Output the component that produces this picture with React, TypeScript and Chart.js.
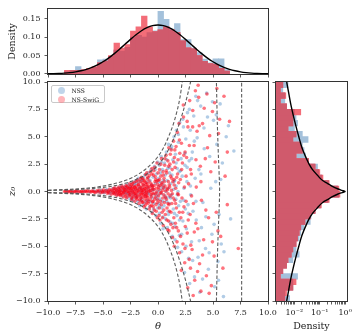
import React, { useEffect, useRef } from "react";
import { Chart, registerables } from "chart.js";

Chart.register(...registerables);

const FONT = "'DejaVu Serif', serif";
const W = 356;
const H = 333;

// ---------- tick labels ----------
const thetaTicks = [-10, -7.5, -5, -2.5, 0, 2.5, 5, 7.5, 10];
const zTicks = [-10, -7.5, -5, -2.5, 0, 2.5, 5, 7.5, 10];
const densityTicks = [0, 0.05, 0.1, 0.15];
const logTicks = [
  0.002, 0.003, 0.004, 0.005, 0.006, 0.007, 0.008, 0.009,
  0.01, 0.02, 0.03, 0.04, 0.05, 0.06, 0.07, 0.08, 0.09,
  0.1, 0.2, 0.3, 0.4, 0.5, 0.6, 0.7, 0.8, 0.9, 1,
];
const logMajorLabels: [number, string][] = [
  [0.01, "10\u207B\u00B2"],
  [0.1, "10\u207B\u00B9"],
  [1, "10\u2070"],
];

const seriesNames = ["NSS", "NS-SwiG"];

// ---------- top histogram (theta) ----------
const thetaBinCenters = [
  -8.25, -7.75, -7.25, -6.75, -6.25, -5.75, -5.25, -4.75, -4.25, -3.75,
  -3.25, -2.75, -2.25, -1.75, -1.25, -0.75, -0.25, 0.25, 0.75, 1.25,
  1.75, 2.25, 2.75, 3.25, 3.75, 4.25, 4.75, 5.25, 5.75, 6.25,
];
const thetaHistNSS = [
  0.006, 0.01, 0.02, 0.01, 0.012, 0.018, 0.038, 0.04, 0.048, 0.065,
  0.062, 0.072, 0.1, 0.105, 0.1, 0.112, 0.117, 0.17, 0.148, 0.122,
  0.137, 0.093, 0.093, 0.07, 0.058, 0.04, 0.03, 0.041, 0.041, 0.012,
];
const thetaHistSwiG = [
  0.01, 0.01, 0.01, 0.012, 0.015, 0.02, 0.03, 0.035, 0.05, 0.084,
  0.07, 0.08, 0.116, 0.128, 0.157, 0.128, 0.115, 0.12, 0.128, 0.12,
  0.112, 0.09, 0.071, 0.068, 0.05, 0.034, 0.028, 0.026, 0.015, 0.008,
];
const thetaCurveX = [
  -10, -9.5, -9, -8.5, -8, -7.5, -7, -6.5, -6, -5.5, -5, -4.5, -4, -3.5, -3, -2.5, -2, -1.5, -1, -0.5,
  0, 0.5, 1, 1.5, 2, 2.5, 3, 3.5, 4, 4.5, 5, 5.5, 6, 6.5, 7, 7.5, 8, 8.5, 9, 9.5, 10,
];
const thetaCurveY = [
  0.00051, 0.00088, 0.00148, 0.0024, 0.0038, 0.00584, 0.00874, 0.0127, 0.018, 0.0248,
  0.0332, 0.0432, 0.0547, 0.0673, 0.0807, 0.094, 0.1065, 0.1174, 0.1258, 0.1312,
  0.133,
  0.1312, 0.1258, 0.1174, 0.1065, 0.094, 0.0807, 0.0673, 0.0547, 0.0432, 0.0332,
  0.0248, 0.018, 0.0127, 0.00874, 0.00584, 0.0038, 0.0024, 0.00148, 0.00088, 0.00051,
];

// ---------- right histogram (z0) ----------
const zBinCenters = [
  -9.75, -9.25, -8.75, -8.25, -7.75, -7.25, -6.75, -6.25, -5.75, -5.25,
  -4.75, -4.25, -3.75, -3.25, -2.75, -2.25, -1.75, -1.25, -0.75, -0.25,
  0.25, 0.75, 1.25, 1.75, 2.25, 2.75, 3.25, 3.75, 4.25, 4.75,
  5.25, 5.75, 6.25, 6.75, 7.25, 7.75, 8.25, 8.75, 9.25, 9.75,
];
const zHistNSS = [
  0.0065, 0.0042, 0.0087, 0.0087, 0.0133, 0.0035, 0.0049, 0.0087, 0.0154, 0.0116,
  0.0116, 0.0154, 0.0178, 0.024, 0.042, 0.045, 0.065, 0.105, 0.21, 0.55,
  0.5, 0.22, 0.12, 0.09, 0.081, 0.036, 0.0274, 0.024, 0.0205, 0.0345,
  0.0205, 0.01, 0.0133, 0.0116, 0.01, 0.0049, 0.0042, 0.0042, 0.0035, 0.0056,
];
const zHistSwiG = [
  0.0042, 0.0049, 0.0087, 0.0116, 0.0028, 0.0035, 0.0049, 0.0056, 0.0075, 0.0087,
  0.0116, 0.0133, 0.0154, 0.0178, 0.026, 0.042, 0.065, 0.115, 0.234, 0.62,
  0.56, 0.234, 0.133, 0.1, 0.065, 0.036, 0.0116, 0.0205, 0.0178, 0.0087,
  0.0116, 0.0056, 0.0087, 0.0087, 0.0178, 0.0049, 0.0028, 0.0046, 0.0028, 0.0035,
];
const zCurveZ = [
  -10, -9, -8, -7, -6, -5, -4, -3, -2.5, -2, -1.5, -1, -0.75, -0.5, -0.25, -0.1,
  0, 0.1, 0.25, 0.5, 0.75, 1, 1.5, 2, 2.5, 3, 4, 5, 6, 7, 8, 9, 10,
];
const zCurveDensity = [
  0.005, 0.006, 0.0072, 0.009, 0.0115, 0.015, 0.02, 0.03, 0.038, 0.052, 0.08, 0.13, 0.2, 0.3, 0.5, 0.75,
  1.0, 0.75, 0.5, 0.3, 0.2, 0.13, 0.08, 0.052, 0.038, 0.03, 0.02, 0.015, 0.0115, 0.009, 0.0072, 0.006, 0.005,
];

// ---------- dashed contour lines ----------
const outerLeftTheta = [-10, -8, -6, -5, -4, -3, -2, -1, 0, 0.5, 1, 1.5, 2, 2.2, 2.4];
const outerLeftZ = [0.12, 0.2, 0.35, 0.5, 0.7, 1.0, 1.45, 2.15, 3.2, 4.0, 5.1, 6.5, 8.6, 10, 11.6];
const innerLeftTheta = [-10, -8, -6, -5, -4, -3, -2, -1, 0, 0.5, 1, 1.5, 2, 2.5, 3.0, 3.2];
const innerLeftZ = [0.09, 0.15, 0.27, 0.38, 0.52, 0.75, 1.1, 1.6, 2.4, 3.05, 3.9, 5.0, 6.4, 8.1, 10.2, 11.3];
const innerRightTheta = [5.3, 5.4, 5.5, 5.58, 5.6, 5.58, 5.5, 5.4, 5.3];
const innerRightZ = [-10.5, -6, -3, -1, 0, 1, 3, 6, 10.5];
const outerRightTheta = [7.6, 7.62, 7.6];
const outerRightZ = [-10.5, 0, 10.5];

// ---------- scatter samples (theta, z0) ----------
const scatterSwiG: [number, number][] = [
  [-8.5, 0.0], [-8.4, 0.02], [-8.25, -0.01], [-8.1, -0.03], [-7.95, 0.03], [-7.9, 0.01], [-7.75, -0.04], [-7.6, -0.02],
  [-7.5, 0.02], [-7.4, 0.04], [-7.25, -0.03], [-7.1, -0.01], [-6.95, 0.02], [-6.9, -0.05], [-6.75, 0.0], [-6.6, 0.03],
  [-6.5, -0.02], [-6.4, 0.06], [-6.25, 0.01], [-6.1, -0.04], [-6.0, 0.04],
  [-5.9, 0.02], [-5.8, -0.05], [-5.7, -0.09], [-5.55, 0.07], [-5.45, -0.03], [-5.35, 0.11], [-5.2, -0.12], [-5.1, 0.04], [-5.02, -0.06],
  [-4.95, 0.15], [-4.85, -0.05], [-4.7, 0.08], [-4.6, -0.17], [-4.55, 0.01],
  [-4.48, -0.1], [-4.4, 0.2], [-4.33, 0.04], [-4.25, -0.25], [-4.18, 0.12], [-4.1, -0.05], [-4.05, 0.28], [-4.02, -0.16],
  [-3.98, 0.1], [-3.95, -0.22], [-3.9, 0.33], [-3.86, -0.04], [-3.8, 0.18], [-3.76, -0.35], [-3.72, 0.05], [-3.68, -0.12],
  [-3.63, 0.26], [-3.6, -0.28], [-3.56, 0.41], [-3.53, 0.0], [-3.51, -0.19],
  [-3.47, 0.15], [-3.42, -0.38], [-3.38, 0.3], [-3.33, -0.08], [-3.28, 0.52], [-3.24, -0.2], [-3.19, 0.07], [-3.14, -0.5],
  [-3.1, 0.22], [-3.06, -0.03], [-3.02, 0.39],
  [-2.98, -0.3], [-2.94, 0.12], [-2.9, 0.55], [-2.86, -0.6], [-2.82, 0.02], [-2.77, 0.33], [-2.72, -0.15], [-2.68, 0.25],
  [-2.63, -0.42], [-2.59, 0.7], [-2.55, -0.06], [-2.52, 0.45],
  [-2.49, -0.25], [-2.46, 0.1], [-2.43, 0.62], [-2.4, -0.75], [-2.37, 0.3], [-2.34, -0.05], [-2.3, 0.45], [-2.27, -0.5],
  [-2.24, 0.18], [-2.21, -0.3], [-2.18, 0.85], [-2.15, 0.02], [-2.12, -0.9], [-2.09, 0.38], [-2.06, -0.15], [-2.04, 0.25], [-2.01, -0.62],
  [-1.99, 0.5], [-1.96, -0.2], [-1.93, 0.08], [-1.9, -0.7], [-1.87, 1.05], [-1.84, 0.3], [-1.81, -0.42], [-1.78, 0.65],
  [-1.75, -0.05], [-1.72, -1.1], [-1.69, 0.22], [-1.66, -0.32], [-1.63, 0.9], [-1.6, 0.4], [-1.57, -0.6], [-1.55, 0.12],
  [-1.53, -0.85], [-1.51, 1.3], [-1.5, -0.15],
  [-1.49, 0.35], [-1.46, -0.55], [-1.44, 0.8], [-1.41, -0.1], [-1.39, 1.2], [-1.36, -0.95], [-1.34, 0.15], [-1.31, -0.3],
  [-1.29, 0.55], [-1.27, -1.4], [-1.25, 0.02], [-1.22, 0.95], [-1.2, -0.68], [-1.18, 0.28], [-1.15, -0.18], [-1.13, 1.55],
  [-1.11, -0.45], [-1.09, 0.65], [-1.07, -1.05], [-1.06, 0.1], [-1.04, -0.25], [-1.03, 0.42], [-1.02, 1.7], [-1.01, -0.8],
  [-0.99, -0.4], [-0.96, 0.7], [-0.93, 1.3], [-0.9, -1.1], [-0.87, 0.2], [-0.84, -0.05], [-0.81, 0.95], [-0.78, -1.6],
  [-0.75, 0.45], [-0.72, -0.7], [-0.69, 1.8], [-0.66, 0.1], [-0.63, -0.3], [-0.6, 0.6], [-0.57, -1.25], [-0.55, 2.1],
  [-0.53, -0.15], [-0.52, 0.35], [-0.51, -2.0],
  [-0.48, 0.5], [-0.45, -0.9], [-0.42, 1.5], [-0.39, -0.2], [-0.36, 0.15], [-0.33, -1.7], [-0.3, 2.2], [-0.27, 0.9],
  [-0.24, -0.5], [-0.21, 1.1], [-0.18, -1.2], [-0.15, 0.3], [-0.12, -0.05], [-0.09, 2.6], [-0.06, -2.4], [-0.04, 0.65], [-0.02, -0.75],
  [0.02, 1.0], [0.05, -0.4], [0.08, 0.2], [0.11, -1.5], [0.14, 2.0], [0.17, -2.6], [0.2, 0.55], [0.23, -0.9],
  [0.26, 1.4], [0.29, -0.1], [0.32, 3.0], [0.35, 0.8], [0.38, -1.9], [0.41, 0.1], [0.44, -0.6], [0.46, 1.8], [0.48, -3.1], [0.49, 0.35],
  [0.52, -0.3], [0.55, 1.2], [0.58, -1.0], [0.61, 2.4], [0.64, 0.5], [0.67, -2.1], [0.7, 0.05], [0.73, 3.3],
  [0.76, -0.7], [0.79, 1.7], [0.82, -1.5], [0.85, 0.3], [0.88, -3.5], [0.9, 2.8], [0.92, -0.2], [0.94, 0.9], [0.96, -2.7], [0.98, 4.0], [0.99, -1.2],
  [1.02, 0.6], [1.05, -1.8], [1.08, 2.5], [1.11, -0.4], [1.14, 1.4], [1.17, -3.0], [1.2, 3.8], [1.23, 0.1],
  [1.26, -1.1], [1.29, 2.0], [1.32, -4.2], [1.35, 0.9], [1.38, -0.6], [1.41, 4.6], [1.44, -2.4], [1.46, 1.1], [1.48, -5.0], [1.49, 3.1],
  [1.52, -0.8], [1.55, 2.2], [1.58, -2.9], [1.61, 0.3], [1.64, 4.1], [1.67, -1.5], [1.7, 1.3], [1.73, -4.6],
  [1.76, 5.4], [1.79, -0.2], [1.82, 2.9], [1.85, -3.6], [1.88, 0.8], [1.91, 6.2], [1.94, -1.9], [1.96, -5.6], [1.98, 3.5],
  [2.03, 1.1], [2.08, -2.4], [2.13, 4.4], [2.18, -0.6], [2.22, 2.6], [2.27, -4.8], [2.32, 6.8], [2.36, -1.4],
  [2.4, 0.4], [2.43, -6.5], [2.46, 3.6], [2.48, -3.2], [2.3, 7.9], [2.12, -7.2],
  [2.55, -0.9], [2.6, 3.1], [2.66, -3.8], [2.72, 5.9], [2.78, 0.7], [2.84, -6.2], [2.88, 8.3], [2.92, -2.1], [2.96, 2.0], [2.7, -8.8], [2.98, -4.9],
  [3.03, 1.6], [3.1, -5.3], [3.16, 7.4], [3.22, -1.1], [3.28, 4.2], [3.34, -8.1], [3.4, 9.2], [3.44, -2.9], [3.48, 0.4], [3.2, -9.5],
  [3.55, 5.5], [3.62, -3.4], [3.7, 8.6], [3.78, -6.6], [3.85, 2.3], [3.9, -9.1], [3.95, -0.8], [3.65, 9.7],
  [4.05, 6.2], [4.15, -4.4], [4.3, 3.0], [4.4, -7.7], [4.45, 8.9],
  [4.6, -2.4], [4.7, 5.1], [4.85, -8.6], [4.95, 7.3],
  [5.1, -5.9], [5.2, 2.7], [5.35, 9.4], [5.45, -3.6],
  [5.6, 6.6], [5.9, -7.0], [6.1, 1.4], [6.3, -1.2], [6.5, 6.4], [7.3, -5.2],
  [-3.45, 0.05], [-3.35, -0.27], [-3.22, 0.36], [-3.12, -0.1], [-3.0, 0.18], [-2.92, -0.41], [-2.8, 0.48], [-2.7, -0.02],
  [-2.62, 0.3], [-2.55, -0.33], [-2.45, 0.22], [-2.38, -0.58], [-2.31, 0.72], [-2.22, -0.12], [-2.13, 0.4], [-2.05, -0.38],
  [-1.97, 0.92], [-1.92, -0.5], [-1.83, 0.05], [-1.76, 0.6], [-1.68, -0.78], [-1.6, 1.15], [-1.54, -0.28],
  [-1.47, 0.1], [-1.42, -1.0], [-1.37, 0.62], [-1.32, 1.02], [-1.26, -0.42], [-1.21, 0.3], [-1.16, -1.25], [-1.12, 0.82],
  [-1.05, -0.05], [-0.98, 1.15], [-0.95, -0.55], [-0.89, 0.42], [-0.83, -0.9], [-0.79, 1.45], [-0.74, 0.05], [-0.7, -1.35],
  [-0.65, 0.75], [-0.61, -0.48], [-0.56, 1.6], [-0.5, -0.95],
  [-0.47, 0.22], [-0.43, -1.4], [-0.38, 1.9], [-0.34, 0.55], [-0.29, -0.7], [-0.25, 1.35], [-0.2, -0.2], [-0.16, -1.8],
  [-0.1, 0.95], [-0.05, -1.0], [0.0, 1.7], [0.06, 0.4], [0.1, -2.2], [0.15, 1.1], [0.21, -0.15], [0.25, 2.5], [0.3, -1.2],
  [0.36, 0.65], [0.42, -2.4], [0.47, 1.5],
  [0.53, -1.7], [0.57, 0.9], [0.63, 3.0], [0.68, -0.5], [0.74, 1.9], [0.8, -2.6], [0.86, 0.15], [0.91, -1.1], [0.97, 2.3],
  [1.0, -3.6], [1.06, 0.4], [1.12, 3.4], [1.18, -1.9], [1.24, 1.2], [1.3, -0.2], [1.36, -3.3], [1.42, 2.7], [1.47, 0.6],
  [1.53, 3.8], [1.6, -1.1], [1.7, -3.3], [1.78, 1.6], [1.86, -0.3], [1.95, 4.7], [2.05, -4.1], [2.15, 2.0], [2.25, -1.9],
  [2.35, 3.3], [2.45, -5.2], [2.55, 1.4], [2.65, 6.4], [2.75, -2.6], [2.85, 4.2], [2.95, -7.0],
  [3.05, -0.4], [3.15, 5.9], [3.3, -3.7], [3.45, 2.9], [3.6, -7.3], [3.75, 6.0], [3.9, 0.9], [4.05, -5.8], [4.2, 7.6],
  [4.35, -1.7], [4.5, 4.0], [4.65, -9.3], [4.8, 1.8], [4.95, -4.6],
  [5.15, 8.1], [5.3, -1.9], [5.5, 5.3], [5.7, -4.1], [6.0, 8.7], [6.3, 3.6],
];

const scatterNSS: [number, number][] = [
  [-8.2, 0.01], [-7.7, -0.02], [-7.35, 0.03], [-7.05, -0.04], [-6.7, 0.02], [-6.2, -0.05], [-5.85, 0.08], [-5.6, -0.03],
  [-5.4, 0.05], [-5.28, -0.1], [-5.15, 0.13], [-5.05, -0.02],
  [-4.9, -0.14], [-4.78, 0.06], [-4.66, 0.18], [-4.52, -0.08],
  [-4.45, 0.12], [-4.35, -0.22], [-4.22, 0.0], [-4.12, 0.26], [-4.03, -0.11],
  [-3.96, 0.3], [-3.88, -0.14], [-3.8, 0.08], [-3.72, -0.32], [-3.65, 0.2], [-3.58, -0.02], [-3.52, 0.38],
  [-3.46, -0.25], [-3.39, 0.1], [-3.31, 0.45], [-3.24, -0.42], [-3.17, 0.02], [-3.09, 0.28], [-3.03, -0.15],
  [-2.97, 0.5], [-2.91, -0.08], [-2.85, 0.2], [-2.79, -0.52], [-2.72, 0.65], [-2.66, -0.28], [-2.6, 0.06], [-2.53, -0.7],
  [-2.48, 0.35], [-2.44, -0.12], [-2.39, 0.8], [-2.35, -0.4], [-2.3, 0.05], [-2.25, -0.85], [-2.2, 0.55], [-2.16, -0.2],
  [-2.11, 0.2], [-2.07, 0.95], [-2.02, -0.55],
  [-1.98, -0.3], [-1.94, 0.7], [-1.89, 0.15], [-1.85, -0.9], [-1.8, 1.2], [-1.75, -0.1], [-1.71, 0.45], [-1.66, -1.3],
  [-1.62, 0.3], [-1.58, -0.5], [-1.54, 0.95], [-1.51, 0.0],
  [-1.48, -0.7], [-1.43, 1.1], [-1.39, 0.25], [-1.34, -1.2], [-1.3, 0.6], [-1.25, -0.2], [-1.2, 1.5], [-1.15, -0.45],
  [-1.11, 0.05], [-1.06, -1.6], [-1.02, 0.85],
  [-0.98, 0.4], [-0.94, -0.8], [-0.9, 1.7], [-0.85, -0.1], [-0.81, 0.2], [-0.76, -1.4], [-0.72, 1.0], [-0.67, -0.35],
  [-0.63, 2.0], [-0.58, 0.6], [-0.54, -1.9], [-0.51, 0.1],
  [-0.48, -0.6], [-0.44, 1.3], [-0.4, 0.2], [-0.36, -1.1], [-0.32, 2.3], [-0.28, -0.25], [-0.23, 0.75], [-0.19, -2.2],
  [-0.15, 1.6], [-0.11, -0.45], [-0.07, 0.0], [-0.04, 2.7], [-0.02, -1.5],
  [0.02, -0.3], [0.04, 1.2], [0.07, -1.1], [0.09, 0.5], [0.12, 2.4], [0.14, -2.0], [0.17, 0.1], [0.19, -0.7],
  [0.22, 1.7], [0.24, -2.9], [0.27, 0.8], [0.29, 3.2], [0.32, -0.2], [0.34, -1.5], [0.37, 0.35], [0.4, 2.0],
  [0.43, -0.9], [0.46, -3.4], [0.49, 1.0],
  [0.52, 0.6], [0.55, -1.3], [0.59, 2.6], [0.62, -0.4], [0.66, 1.5], [0.69, -2.5], [0.72, 0.0], [0.76, 3.6],
  [0.79, -0.9], [0.82, 1.0], [0.85, -3.3], [0.88, 2.1], [0.91, -1.8], [0.94, 0.3], [0.96, 4.3], [0.99, -0.5],
  [1.03, -1.1], [1.07, 2.2], [1.11, -2.8], [1.15, 0.7], [1.19, 3.9], [1.23, -0.3], [1.27, 1.5], [1.31, -4.1],
  [1.35, 2.9], [1.39, -1.6], [1.43, 0.2], [1.46, 5.0], [1.49, -2.0],
  [1.52, 1.0], [1.55, -3.2], [1.58, 3.4], [1.62, -0.7], [1.65, 0.5], [1.68, 5.6], [1.72, -2.2], [1.75, 2.1],
  [1.78, -5.1], [1.82, 0.0], [1.85, 4.5], [1.88, -1.3], [1.92, 1.8], [1.95, -4.0], [1.98, 6.3],
  [2.04, -0.9], [2.1, 3.0], [2.15, -5.5], [2.2, 1.4], [2.26, -2.7], [2.31, 5.9], [2.36, 0.3], [2.41, -7.4], [2.45, 2.4], [2.49, -1.6],
  [2.53, 4.8], [2.58, -3.4], [2.63, 0.9], [2.68, 7.2], [2.73, -1.2], [2.78, -6.1], [2.83, 2.8], [2.88, -8.4], [2.93, 5.6], [2.97, -0.3],
  [3.05, -4.6], [3.12, 3.6], [3.18, -1.8], [3.25, 6.9], [3.32, -7.8], [3.38, 1.2], [3.44, 8.7], [3.48, -2.6],
  [3.56, 4.9], [3.64, -6.0], [3.72, 2.0], [3.8, -9.2], [3.88, 7.8], [3.95, -3.3],
  [4.08, -1.0], [4.18, 5.8], [4.32, -5.2], [4.42, 9.0],
  [4.58, -7.1], [4.7, 3.2], [4.9, -3.9],
  [5.05, 6.5], [5.15, -8.7], [5.25, 0.9], [5.35, 4.3], [5.45, -6.4],
  [5.55, -2.1], [5.65, 8.0], [5.75, -4.8], [5.85, 2.6], [5.95, -9.6],
  [6.2, 5.0], [6.6, -2.5], [6.9, 3.7],
  [-2.9, 0.35], [-2.75, -0.2], [-2.55, 0.45], [-2.35, -0.65], [-2.15, 0.7], [-1.95, -0.45], [-1.75, 0.9], [-1.55, -0.85],
  [-1.35, 1.25], [-1.15, -0.95],
  [-0.95, -0.2], [-0.85, 1.25], [-0.7, -0.95], [-0.55, 0.5], [-0.4, -1.6], [-0.25, 2.0], [-0.1, -0.7], [0.05, 0.9],
  [0.15, -1.3], [0.3, 2.7], [0.45, -2.3], [0.6, 0.3], [0.7, -0.6], [0.8, 2.9], [0.95, -2.1],
  [1.05, 1.7], [1.15, -0.6], [1.25, 4.1], [1.35, -2.9], [1.45, 0.9], [1.55, -4.4], [1.65, 2.6], [1.75, -0.3],
  [1.85, 5.2], [1.95, -2.6], [2.05, 1.9], [2.15, -3.9], [2.25, 6.6], [2.35, -0.8], [2.45, 3.5], [2.55, -5.0],
  [2.65, 2.2], [2.75, -2.0], [2.85, 7.5], [2.95, 0.5],
  [3.05, 3.0], [3.15, -6.3], [3.3, 4.6], [3.45, -0.9], [3.6, 8.3], [3.75, -4.5], [3.9, 1.6], [4.05, -8.0],
  [4.2, 3.9], [4.35, -2.3], [4.5, 6.8], [4.65, -5.6], [4.8, 0.3], [4.95, 8.2], [5.1, -3.0], [5.3, 7.0],
  [5.5, -8.1], [5.7, 1.1], [6.0, -5.5], [6.4, 6.0],
];

// ---------- colours ----------
const BLUE_BAR = "#a4c1db";
const RED_BAR = "#f36d78";
const BOTH_BAR = "#d05a6c";
const BLUE_PT = "rgba(50,120,190,0.38)";
const RED_PT = "rgba(255,0,20,0.55)";
const DASH = "rgba(85,85,85,0.95)";
const AXIS = "#333";
const TEXT = "#222";

const fmt1 = (v: number) => (v < 0 ? "\u2212" : "") + Math.abs(v).toFixed(1);

const framePlugin = {
  id: "frame",
  afterDraw(chart: any) {
    const { ctx, chartArea: a } = chart;
    ctx.save();
    ctx.strokeStyle = AXIS;
    ctx.lineWidth = 1;
    ctx.strokeRect(
      Math.round(a.left) - 0.5,
      Math.round(a.top) - 0.5,
      Math.round(a.right) - Math.round(a.left) + 1,
      Math.round(a.bottom) - Math.round(a.top) + 1
    );
    ctx.restore();
  },
};

const grid = () => ({
  display: true,
  drawOnChartArea: false,
  drawTicks: true,
  tickLength: 3.5,
  tickColor: AXIS,
  tickWidth: 0.8,
  offset: false,
});

const tickFont = { family: FONT, size: 8 };

function axis(opts: {
  type?: string;
  min: number;
  max: number;
  values: number[];
  size: number;
  vertical: boolean;
  label?: (v: number) => string;
  title?: any;
}) {
  return {
    type: opts.type || "linear",
    min: opts.min,
    max: opts.max,
    offset: false,
    afterBuildTicks: (s: any) => {
      s.ticks = opts.values.map((v) => ({ value: v }));
    },
    afterFit: (s: any) => {
      if (opts.vertical) s.width = opts.size;
      else s.height = opts.size;
    },
    ticks: {
      display: true,
      autoSkip: false,
      maxRotation: 0,
      minRotation: 0,
      padding: 4,
      font: tickFont,
      color: TEXT,
      callback: (v: any) => (opts.label ? opts.label(Number(v)) : ""),
    },
    grid: grid(),
    border: { display: false },
    title: opts.title || { display: false },
  };
}

const xy = (xs: number[], ys: number[]) => xs.map((x, i) => ({ x, y: ys[i] }));
const pairs = (arr: [number, number][]) => arr.map(([x, y]) => ({ x, y }));
const lower = (a: number[], b: number[]) => a.map((v, i) => Math.min(v, b[i]));

const barSet = (label: string, data: any[], color: string) => ({
  label,
  data,
  backgroundColor: color,
  borderWidth: 0,
  barPercentage: 1,
  categoryPercentage: 1,
  grouped: false,
  inflateAmount: 0.4,
});

export default function App() {
  const topRef = useRef<HTMLCanvasElement>(null);
  const mainRef = useRef<HTMLCanvasElement>(null);
  const sideRef = useRef<HTMLCanvasElement>(null);

  useEffect(() => {
    const charts: Chart[] = [];

    // ---------- top marginal ----------
    charts.push(
      new Chart(topRef.current as HTMLCanvasElement, {
        type: "bar",
        data: {
          datasets: [
            {
              type: "line",
              label: "pdf",
              data: xy(thetaCurveX, thetaCurveY),
              borderColor: "#000",
              borderWidth: 1.4,
              pointRadius: 0,
              cubicInterpolationMode: "monotone",
            } as any,
            barSet("overlap", xy(thetaBinCenters, lower(thetaHistSwiG, thetaHistNSS)), BOTH_BAR),
            barSet(seriesNames[1], xy(thetaBinCenters, thetaHistSwiG), RED_BAR),
            barSet(seriesNames[0], xy(thetaBinCenters, thetaHistNSS), BLUE_BAR),
          ],
        },
        options: {
          responsive: false,
          animation: false,
          devicePixelRatio: 1,
          layout: { autoPadding: false, padding: { left: 0, top: 2, right: W - 268, bottom: H - 74 - 6 } },
          plugins: { legend: { display: false }, tooltip: { enabled: false } },
          scales: {
            x: axis({ min: -10, max: 10, values: thetaTicks, size: 6, vertical: false }) as any,
            y: axis({
              min: 0,
              max: 0.177,
              values: densityTicks,
              size: 48,
              vertical: true,
              label: (v) => v.toFixed(2),
              title: {
                display: true,
                text: "Density",
                font: { family: FONT, size: 9.5 },
                color: TEXT,
                padding: { top: 7, bottom: 0 },
              },
            }) as any,
          },
        } as any,
        plugins: [framePlugin],
      })
    );

    // ---------- main scatter ----------
    const dashed = (data: any[], smooth: boolean) => ({
      label: "contour",
      data,
      showLine: true,
      pointRadius: 0,
      borderColor: DASH,
      borderWidth: 1.1,
      borderDash: [3.5, 2],
      cubicInterpolationMode: smooth ? "monotone" : "default",
      tension: smooth ? 0 : 0.3,
    });
    const neg = (a: number[]) => a.map((v) => -v);
    charts.push(
      new Chart(mainRef.current as HTMLCanvasElement, {
        type: "scatter",
        data: {
          datasets: [
            dashed(xy(outerLeftTheta, outerLeftZ), true),
            dashed(xy(outerLeftTheta, neg(outerLeftZ)), true),
            dashed(xy(innerLeftTheta, innerLeftZ), true),
            dashed(xy(innerLeftTheta, neg(innerLeftZ)), true),
            dashed(xy(innerRightTheta, innerRightZ), false),
            dashed(xy(outerRightTheta, outerRightZ), false),
            {
              label: seriesNames[1],
              data: pairs(scatterSwiG),
              backgroundColor: RED_PT,
              borderWidth: 0,
              pointRadius: 1.8,
            },
            {
              label: seriesNames[0],
              data: pairs(scatterNSS),
              backgroundColor: BLUE_PT,
              borderWidth: 0,
              pointRadius: 1.8,
            },
          ] as any,
        },
        options: {
          responsive: false,
          animation: false,
          devicePixelRatio: 1,
          layout: { autoPadding: false, padding: { left: 0, top: 82, right: W - 268, bottom: 0 } },
          plugins: { legend: { display: false }, tooltip: { enabled: false } },
          scales: {
            x: axis({
              min: -10,
              max: 10,
              values: thetaTicks,
              size: 32,
              vertical: false,
              label: fmt1,
              title: {
                display: true,
                text: "\u03B8",
                font: { family: FONT, size: 10, style: "italic" },
                color: TEXT,
                padding: { top: 0, bottom: 1 },
              },
            }) as any,
            y: axis({
              min: -10,
              max: 10,
              values: zTicks,
              size: 48,
              vertical: true,
              label: fmt1,
              title: {
                display: true,
                text: "z\u2080",
                font: { family: FONT, size: 10, style: "italic" },
                color: TEXT,
                padding: { top: 6, bottom: 0 },
              },
            }) as any,
          },
        } as any,
        plugins: [framePlugin],
      })
    );

    // ---------- right marginal ----------
    charts.push(
      new Chart(sideRef.current as HTMLCanvasElement, {
        type: "bar",
        data: {
          datasets: [
            {
              type: "line",
              label: "pdf",
              data: xy(zCurveDensity, zCurveZ),
              borderColor: "#000",
              borderWidth: 1.4,
              pointRadius: 0,
              indexAxis: "y",
              cubicInterpolationMode: "monotone",
            } as any,
            barSet("overlap", xy(lower(zHistSwiG, zHistNSS), zBinCenters), BOTH_BAR),
            barSet(seriesNames[1], xy(zHistSwiG, zBinCenters), RED_BAR),
            barSet(seriesNames[0], xy(zHistNSS, zBinCenters), BLUE_BAR),
          ],
        },
        options: {
          indexAxis: "y",
          responsive: false,
          animation: false,
          devicePixelRatio: 1,
          layout: { autoPadding: false, padding: { left: 271, top: 82, right: W - 350, bottom: 0 } },
          plugins: { legend: { display: false }, tooltip: { enabled: false } },
          scales: {
            x: axis({
              type: "logarithmic",
              min: 0.0019,
              max: 1.16,
              values: logTicks,
              size: 32,
              vertical: false,
              label: (v) => {
                const m = logMajorLabels.find(([t]) => Math.abs(t - v) / t < 1e-6);
                return m ? m[1] : "";
              },
              title: {
                display: true,
                text: "Density",
                font: { family: FONT, size: 9.5 },
                color: TEXT,
                padding: { top: 0, bottom: 1 },
              },
            }) as any,
            y: axis({ min: -10, max: 10, values: zTicks, size: 5, vertical: true }) as any,
          },
        } as any,
        plugins: [framePlugin],
      })
    );

    return () => charts.forEach((c) => c.destroy());
  }, []);

  const canvasStyle: React.CSSProperties = { position: "absolute", left: 0, top: 0, display: "block" };
  const legendRow = (i: number, color: string) => (
    <div key={i} style={{ position: "absolute", left: 0, top: i === 0 ? 1 : 10, height: 7, width: 54 }}>
      <div
        style={{
          position: "absolute",
          left: 5.5,
          top: 0,
          width: 7,
          height: 7,
          borderRadius: "50%",
          background: color,
        }}
      />
      <div
        style={{
          position: "absolute",
          left: 19.5,
          top: 0,
          lineHeight: "7px",
          fontSize: 6,
          fontFamily: FONT,
          color: TEXT,
          whiteSpace: "nowrap",
        }}
      >
        {seriesNames[i]}
      </div>
    </div>
  );

  return (
    <div style={{ position: "fixed", left: 0, top: 0, width: W, height: H, background: "#fff", overflow: "hidden" }}>
      <canvas ref={topRef} width={W} height={H} style={canvasStyle} />
      <canvas ref={mainRef} width={W} height={H} style={canvasStyle} />
      <canvas ref={sideRef} width={W} height={H} style={canvasStyle} />
      <div
        style={{
          position: "absolute",
          left: 51,
          top: 85,
          width: 54,
          height: 18,
          boxSizing: "border-box",
          border: "1px solid #c9c9c9",
          borderRadius: 2,
          background: "rgba(255,255,255,0.8)",
        }}
      >
        {legendRow(0, "rgba(150,185,220,0.6)")}
        {legendRow(1, "rgba(255,120,130,0.55)")}
      </div>
    </div>
  );
}
